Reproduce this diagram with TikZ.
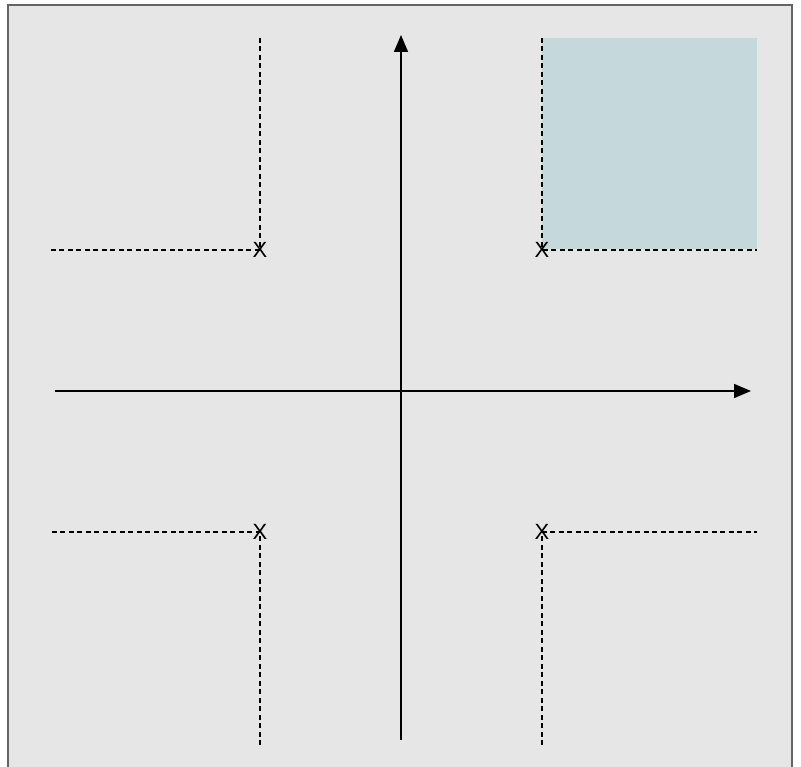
\documentclass[tikz,border=0pt]{standalone}
\usepackage{fontspec}
\setmainfont{Liberation Sans}
\usetikzlibrary{arrows.meta}
\begin{document}
\begin{tikzpicture}[x=1pt,y=-1pt,
  axis/.style={line width=1.6pt,-{Triangle[length=17pt,width=14pt]}},
  guide/.style={line width=1.1pt,dash pattern=on 5pt off 3.5pt},
  xmark/.style={inner sep=0pt,font=\fontsize{22}{22}\selectfont}]
\useasboundingbox (0,0) rectangle (801,767);
\fill[white] (0,0) rectangle (801,767);
\fill[fill={rgb,255:red,230;green,230;blue,230}] (8,5) rectangle (792,767);
\draw[line width=1.5pt,color={rgb,255:red,100;green,100;blue,100}] (8,770) -- (8,5) -- (792,5) -- (792,770);
\fill[fill={rgb,255:red,197;green,216;blue,220}] (542,38) rectangle (757,249);
% X marks
\node[xmark] (tl) at (260,250) {X};
\node[xmark] (tr) at (542,250) {X};
\node[xmark] (bl) at (260,532) {X};
\node[xmark] (br) at (542,532) {X};
% guide ends
\coordinate (tlv) at (260,38);
\coordinate (tlh) at (50,250);
\coordinate (trv) at (542,38);
\coordinate (trh) at (757,250);
\coordinate (blv) at (260,745);
\coordinate (blh) at (50,532);
\coordinate (brv) at (542,745);
\coordinate (brh) at (757,532);
\draw[guide] (tlv) -- (260,250) -- (tlh);
\draw[guide] (trv) -- (542,250) -- (trh);
\draw[guide] (blv) -- (260,532) -- (blh);
\draw[guide] (brv) -- (542,532) -- (brh);
% axes
\coordinate (ybot) at (401,740);
\coordinate (ytop) at (401,35);
\coordinate (xl) at (55,391);
\coordinate (xr) at (751,391);
\draw[axis] (ybot) -- (ytop);
\draw[axis] (xl) -- (xr);
\end{tikzpicture}
\end{document}
